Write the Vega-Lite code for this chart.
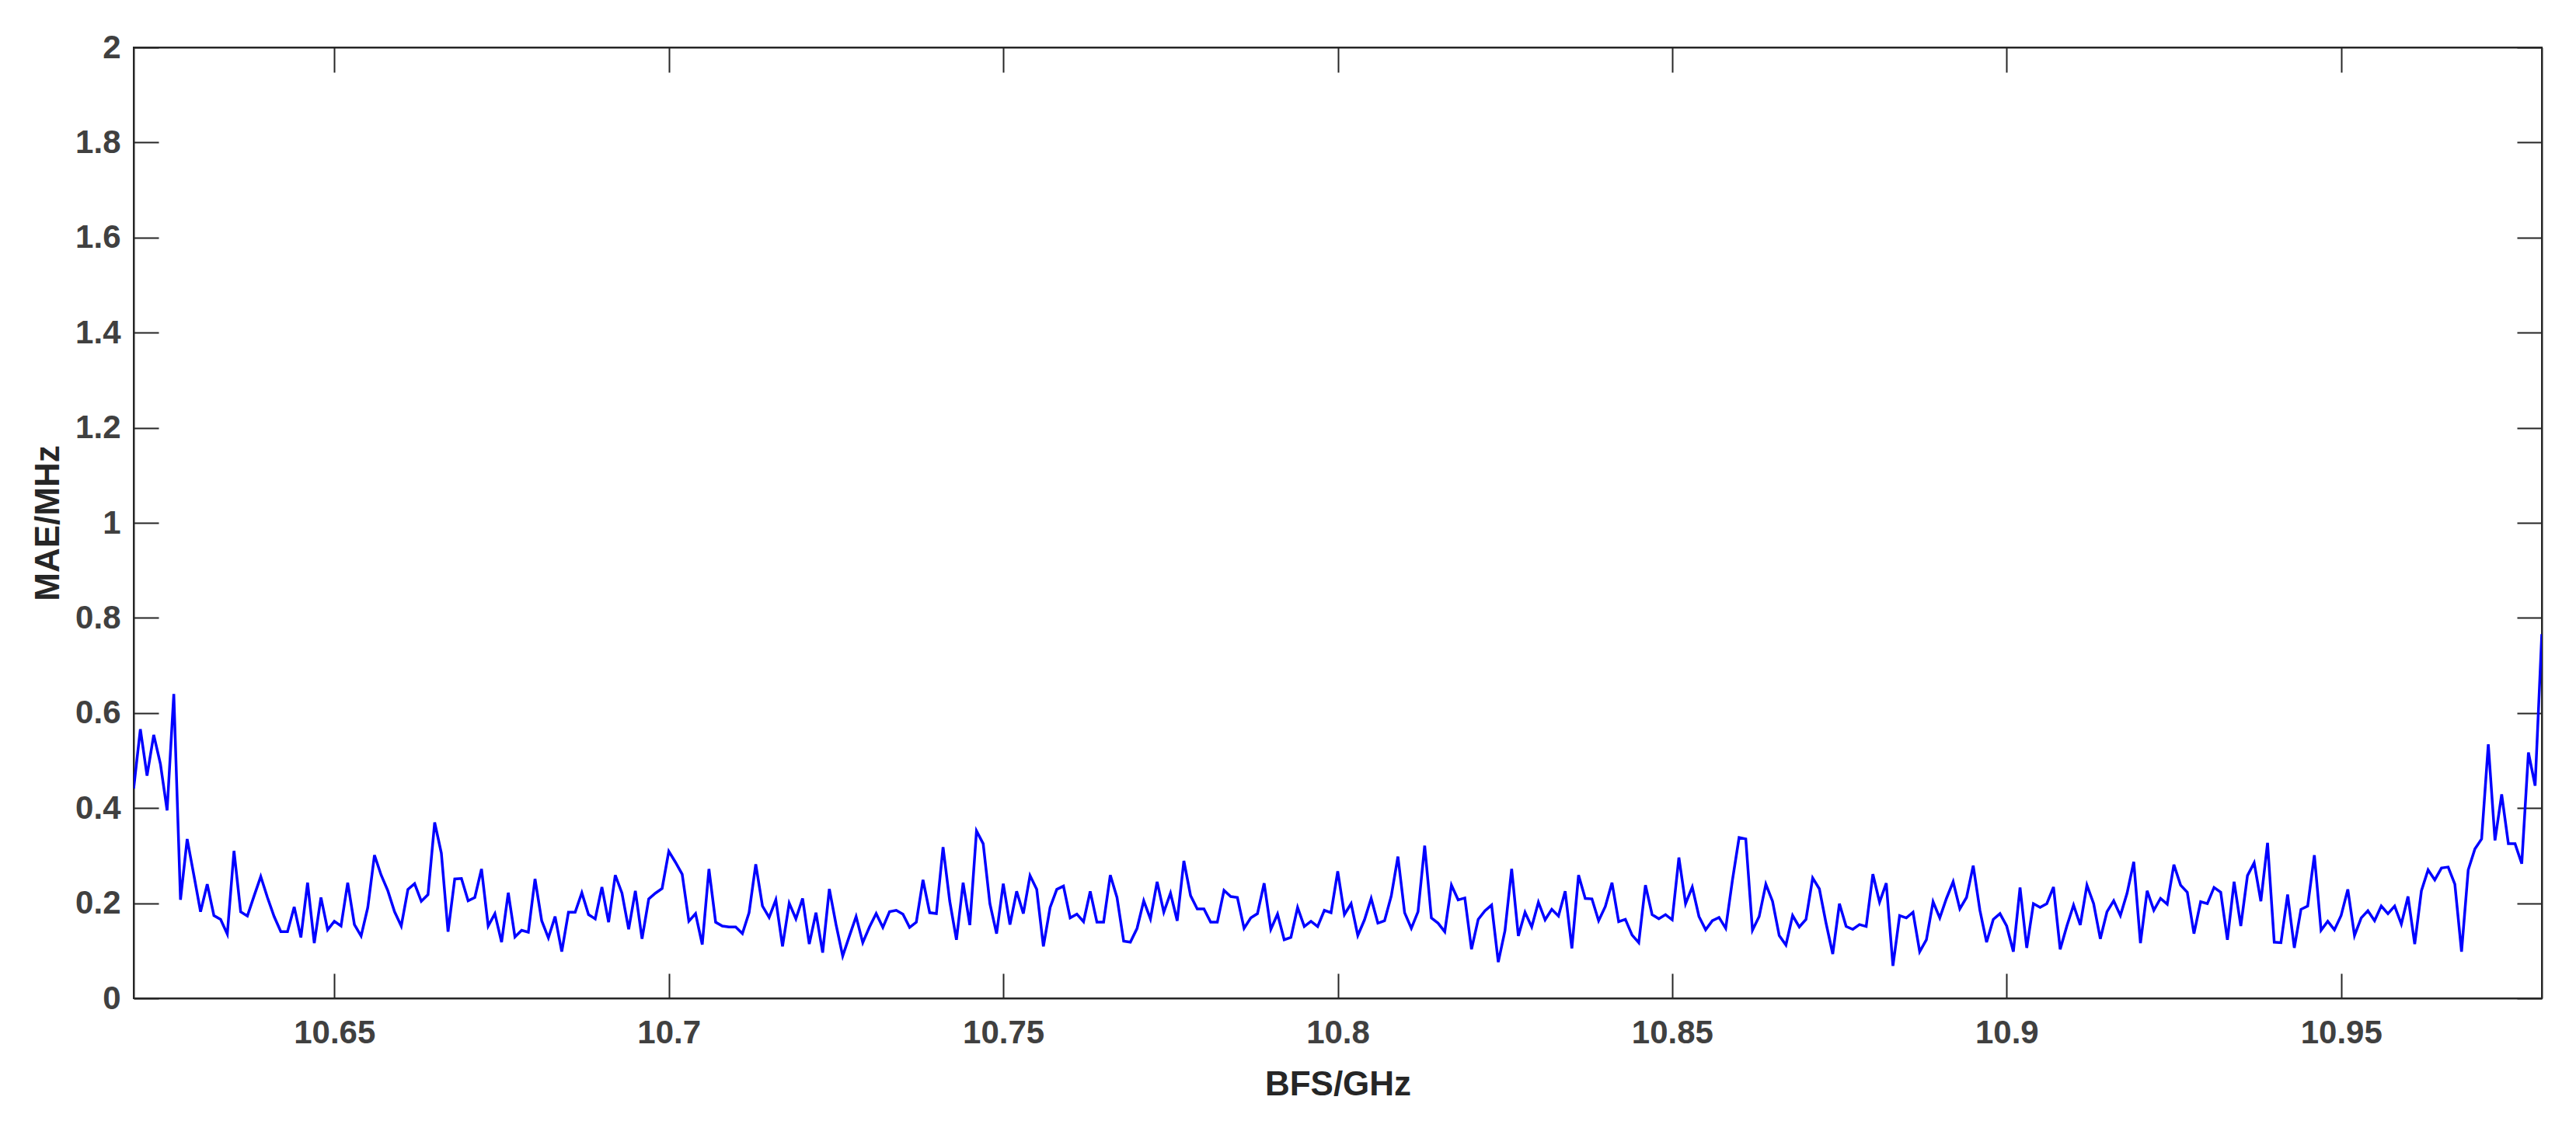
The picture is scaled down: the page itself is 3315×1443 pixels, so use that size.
{
  "$schema": "https://vega.github.io/schema/vega-lite/v6.json",
  "width": 3099,
  "height": 1224,
  "autosize": {"type": "none"},
  "padding": {"left": 172, "top": 61, "right": 44, "bottom": 158},
  "background": "white",
  "config": {
    "view": {"stroke": "#262626", "strokeWidth": 2},
    "axis": {
      "grid": false,
      "domainColor": "#262626",
      "domainWidth": 2,
      "tickColor": "#262626",
      "tickWidth": 2,
      "tickSize": -32,
      "labelFont": "Liberation Sans",
      "labelFontWeight": "bold",
      "labelFontSize": 42,
      "labelColor": "#404040",
      "labelFlush": false,
      "labelOverlap": false,
      "titleFont": "Liberation Sans",
      "titleFontWeight": "bold",
      "titleFontSize": 44,
      "titleColor": "#262626"
    }
  },
  "data": {"values": [
{"f":10.620,"m":0.441},{"f":10.621,"m":0.566},{"f":10.622,"m":0.468},{"f":10.623,"m":0.554},{"f":10.624,"m":0.493},{"f":10.625,"m":0.395},{"f":10.626,"m":0.640},{"f":10.627,"m":0.207},{"f":10.628,"m":0.335},{"f":10.629,"m":0.259},
{"f":10.630,"m":0.182},{"f":10.631,"m":0.240},{"f":10.632,"m":0.174},{"f":10.633,"m":0.166},{"f":10.634,"m":0.135},{"f":10.635,"m":0.310},{"f":10.636,"m":0.182},{"f":10.637,"m":0.173},{"f":10.638,"m":0.215},{"f":10.639,"m":0.256},
{"f":10.640,"m":0.212},{"f":10.641,"m":0.172},{"f":10.642,"m":0.140},{"f":10.643,"m":0.140},{"f":10.644,"m":0.192},{"f":10.645,"m":0.128},{"f":10.646,"m":0.243},{"f":10.647,"m":0.116},{"f":10.648,"m":0.212},{"f":10.649,"m":0.144},
{"f":10.650,"m":0.162},{"f":10.651,"m":0.152},{"f":10.652,"m":0.243},{"f":10.653,"m":0.155},{"f":10.654,"m":0.131},{"f":10.655,"m":0.191},{"f":10.656,"m":0.301},{"f":10.657,"m":0.259},{"f":10.658,"m":0.226},{"f":10.659,"m":0.182},
{"f":10.660,"m":0.152},{"f":10.661,"m":0.229},{"f":10.662,"m":0.241},{"f":10.663,"m":0.204},{"f":10.664,"m":0.218},{"f":10.665,"m":0.370},{"f":10.666,"m":0.305},{"f":10.667,"m":0.140},{"f":10.668,"m":0.251},{"f":10.669,"m":0.252},
{"f":10.670,"m":0.205},{"f":10.671,"m":0.212},{"f":10.672,"m":0.272},{"f":10.673,"m":0.152},{"f":10.674,"m":0.178},{"f":10.675,"m":0.118},{"f":10.676,"m":0.222},{"f":10.677,"m":0.129},{"f":10.678,"m":0.143},{"f":10.679,"m":0.139},
{"f":10.680,"m":0.251},{"f":10.681,"m":0.163},{"f":10.682,"m":0.127},{"f":10.683,"m":0.172},{"f":10.684,"m":0.098},{"f":10.685,"m":0.181},{"f":10.686,"m":0.181},{"f":10.687,"m":0.222},{"f":10.688,"m":0.176},{"f":10.689,"m":0.167},
{"f":10.690,"m":0.234},{"f":10.691,"m":0.160},{"f":10.692,"m":0.259},{"f":10.693,"m":0.221},{"f":10.694,"m":0.145},{"f":10.695,"m":0.226},{"f":10.696,"m":0.125},{"f":10.697,"m":0.209},{"f":10.698,"m":0.221},{"f":10.699,"m":0.231},
{"f":10.700,"m":0.309},{"f":10.701,"m":0.286},{"f":10.702,"m":0.261},{"f":10.703,"m":0.162},{"f":10.704,"m":0.178},{"f":10.705,"m":0.113},{"f":10.706,"m":0.272},{"f":10.707,"m":0.160},{"f":10.708,"m":0.152},{"f":10.709,"m":0.150},
{"f":10.710,"m":0.150},{"f":10.711,"m":0.136},{"f":10.712,"m":0.180},{"f":10.713,"m":0.282},{"f":10.714,"m":0.194},{"f":10.715,"m":0.170},{"f":10.716,"m":0.207},{"f":10.717,"m":0.109},{"f":10.718,"m":0.200},{"f":10.719,"m":0.167},
{"f":10.720,"m":0.210},{"f":10.721,"m":0.114},{"f":10.722,"m":0.180},{"f":10.723,"m":0.096},{"f":10.724,"m":0.230},{"f":10.725,"m":0.155},{"f":10.726,"m":0.089},{"f":10.727,"m":0.131},{"f":10.728,"m":0.172},{"f":10.729,"m":0.117},
{"f":10.730,"m":0.150},{"f":10.731,"m":0.178},{"f":10.732,"m":0.149},{"f":10.733,"m":0.182},{"f":10.734,"m":0.185},{"f":10.735,"m":0.177},{"f":10.736,"m":0.149},{"f":10.737,"m":0.160},{"f":10.738,"m":0.249},{"f":10.739,"m":0.180},
{"f":10.740,"m":0.178},{"f":10.741,"m":0.318},{"f":10.742,"m":0.204},{"f":10.743,"m":0.123},{"f":10.744,"m":0.243},{"f":10.745,"m":0.154},{"f":10.746,"m":0.352},{"f":10.747,"m":0.325},{"f":10.748,"m":0.199},{"f":10.749,"m":0.136},
{"f":10.750,"m":0.241},{"f":10.751,"m":0.155},{"f":10.752,"m":0.225},{"f":10.753,"m":0.178},{"f":10.754,"m":0.258},{"f":10.755,"m":0.229},{"f":10.756,"m":0.109},{"f":10.757,"m":0.191},{"f":10.758,"m":0.229},{"f":10.759,"m":0.236},
{"f":10.760,"m":0.169},{"f":10.761,"m":0.177},{"f":10.762,"m":0.161},{"f":10.763,"m":0.225},{"f":10.764,"m":0.160},{"f":10.765,"m":0.160},{"f":10.766,"m":0.259},{"f":10.767,"m":0.212},{"f":10.768,"m":0.120},{"f":10.769,"m":0.118},
{"f":10.770,"m":0.147},{"f":10.771,"m":0.205},{"f":10.772,"m":0.167},{"f":10.773,"m":0.245},{"f":10.774,"m":0.181},{"f":10.775,"m":0.221},{"f":10.776,"m":0.163},{"f":10.777,"m":0.289},{"f":10.778,"m":0.216},{"f":10.779,"m":0.188},
{"f":10.780,"m":0.188},{"f":10.781,"m":0.160},{"f":10.782,"m":0.160},{"f":10.783,"m":0.227},{"f":10.784,"m":0.214},{"f":10.785,"m":0.212},{"f":10.786,"m":0.147},{"f":10.787,"m":0.169},{"f":10.788,"m":0.178},{"f":10.789,"m":0.242},
{"f":10.790,"m":0.145},{"f":10.791,"m":0.177},{"f":10.792,"m":0.123},{"f":10.793,"m":0.128},{"f":10.794,"m":0.191},{"f":10.795,"m":0.151},{"f":10.796,"m":0.162},{"f":10.797,"m":0.151},{"f":10.798,"m":0.185},{"f":10.799,"m":0.180},
{"f":10.800,"m":0.267},{"f":10.801,"m":0.176},{"f":10.802,"m":0.199},{"f":10.803,"m":0.132},{"f":10.804,"m":0.165},{"f":10.805,"m":0.210},{"f":10.806,"m":0.158},{"f":10.807,"m":0.163},{"f":10.808,"m":0.215},{"f":10.809,"m":0.298},
{"f":10.810,"m":0.180},{"f":10.811,"m":0.147},{"f":10.812,"m":0.182},{"f":10.813,"m":0.321},{"f":10.814,"m":0.169},{"f":10.815,"m":0.158},{"f":10.816,"m":0.140},{"f":10.817,"m":0.238},{"f":10.818,"m":0.207},{"f":10.819,"m":0.211},
{"f":10.820,"m":0.103},{"f":10.821,"m":0.166},{"f":10.822,"m":0.184},{"f":10.823,"m":0.196},{"f":10.824,"m":0.076},{"f":10.825,"m":0.142},{"f":10.826,"m":0.272},{"f":10.827,"m":0.131},{"f":10.828,"m":0.181},{"f":10.829,"m":0.150},
{"f":10.830,"m":0.202},{"f":10.831,"m":0.165},{"f":10.832,"m":0.187},{"f":10.833,"m":0.173},{"f":10.834,"m":0.225},{"f":10.835,"m":0.105},{"f":10.836,"m":0.259},{"f":10.837,"m":0.210},{"f":10.838,"m":0.209},{"f":10.839,"m":0.163},
{"f":10.840,"m":0.193},{"f":10.841,"m":0.243},{"f":10.842,"m":0.161},{"f":10.843,"m":0.166},{"f":10.844,"m":0.133},{"f":10.845,"m":0.117},{"f":10.846,"m":0.238},{"f":10.847,"m":0.176},{"f":10.848,"m":0.167},{"f":10.849,"m":0.176},
{"f":10.850,"m":0.165},{"f":10.851,"m":0.296},{"f":10.852,"m":0.199},{"f":10.853,"m":0.234},{"f":10.854,"m":0.172},{"f":10.855,"m":0.144},{"f":10.856,"m":0.163},{"f":10.857,"m":0.170},{"f":10.858,"m":0.147},{"f":10.859,"m":0.248},
{"f":10.860,"m":0.338},{"f":10.861,"m":0.335},{"f":10.862,"m":0.143},{"f":10.863,"m":0.172},{"f":10.864,"m":0.240},{"f":10.865,"m":0.204},{"f":10.866,"m":0.132},{"f":10.867,"m":0.112},{"f":10.868,"m":0.174},{"f":10.869,"m":0.150},
{"f":10.870,"m":0.166},{"f":10.871,"m":0.253},{"f":10.872,"m":0.230},{"f":10.873,"m":0.158},{"f":10.874,"m":0.093},{"f":10.875,"m":0.199},{"f":10.876,"m":0.151},{"f":10.877,"m":0.145},{"f":10.878,"m":0.155},{"f":10.879,"m":0.151},
{"f":10.880,"m":0.261},{"f":10.881,"m":0.202},{"f":10.882,"m":0.242},{"f":10.883,"m":0.068},{"f":10.884,"m":0.174},{"f":10.885,"m":0.169},{"f":10.886,"m":0.181},{"f":10.887,"m":0.098},{"f":10.888,"m":0.123},{"f":10.889,"m":0.203},
{"f":10.890,"m":0.169},{"f":10.891,"m":0.210},{"f":10.892,"m":0.245},{"f":10.893,"m":0.188},{"f":10.894,"m":0.212},{"f":10.895,"m":0.279},{"f":10.896,"m":0.185},{"f":10.897,"m":0.118},{"f":10.898,"m":0.166},{"f":10.899,"m":0.178},
{"f":10.900,"m":0.152},{"f":10.901,"m":0.098},{"f":10.902,"m":0.233},{"f":10.903,"m":0.106},{"f":10.904,"m":0.199},{"f":10.905,"m":0.191},{"f":10.906,"m":0.199},{"f":10.907,"m":0.234},{"f":10.908,"m":0.103},{"f":10.909,"m":0.152},
{"f":10.910,"m":0.196},{"f":10.911,"m":0.154},{"f":10.912,"m":0.238},{"f":10.913,"m":0.199},{"f":10.914,"m":0.125},{"f":10.915,"m":0.182},{"f":10.916,"m":0.205},{"f":10.917,"m":0.174},{"f":10.918,"m":0.221},{"f":10.919,"m":0.287},
{"f":10.920,"m":0.116},{"f":10.921,"m":0.226},{"f":10.922,"m":0.185},{"f":10.923,"m":0.210},{"f":10.924,"m":0.198},{"f":10.925,"m":0.281},{"f":10.926,"m":0.238},{"f":10.927,"m":0.223},{"f":10.928,"m":0.136},{"f":10.929,"m":0.203},
{"f":10.930,"m":0.199},{"f":10.931,"m":0.233},{"f":10.932,"m":0.223},{"f":10.933,"m":0.123},{"f":10.934,"m":0.245},{"f":10.935,"m":0.152},{"f":10.936,"m":0.258},{"f":10.937,"m":0.285},{"f":10.938,"m":0.204},{"f":10.939,"m":0.327},
{"f":10.940,"m":0.118},{"f":10.941,"m":0.117},{"f":10.942,"m":0.218},{"f":10.943,"m":0.106},{"f":10.944,"m":0.187},{"f":10.945,"m":0.194},{"f":10.946,"m":0.301},{"f":10.947,"m":0.143},{"f":10.948,"m":0.162},{"f":10.949,"m":0.144},
{"f":10.950,"m":0.174},{"f":10.951,"m":0.229},{"f":10.952,"m":0.132},{"f":10.953,"m":0.169},{"f":10.954,"m":0.184},{"f":10.955,"m":0.163},{"f":10.956,"m":0.194},{"f":10.957,"m":0.178},{"f":10.958,"m":0.194},{"f":10.959,"m":0.156},
{"f":10.960,"m":0.214},{"f":10.961,"m":0.114},{"f":10.962,"m":0.226},{"f":10.963,"m":0.270},{"f":10.964,"m":0.249},{"f":10.965,"m":0.274},{"f":10.966,"m":0.276},{"f":10.967,"m":0.240},{"f":10.968,"m":0.098},{"f":10.969,"m":0.270},
{"f":10.970,"m":0.314},{"f":10.971,"m":0.335},{"f":10.972,"m":0.534},{"f":10.973,"m":0.332},{"f":10.974,"m":0.429},{"f":10.975,"m":0.325},{"f":10.976,"m":0.325},{"f":10.977,"m":0.283},{"f":10.978,"m":0.517},{"f":10.979,"m":0.447},
{"f":10.980,"m":0.766}
  ]},
  "layer": [
    {
      "mark": {"type": "line", "color": "#0000ff", "strokeWidth": 3.5, "clip": true},
      "encoding": {
        "x": {
          "field": "f", "type": "quantitative",
          "scale": {"domain": [10.62, 10.98], "nice": false, "zero": false},
          "axis": {
            "orient": "bottom",
            "values": [10.65, 10.7, 10.75, 10.8, 10.85, 10.9, 10.95],
            "format": "~g",
            "labelPadding": 56,
            "title": "BFS/GHz",
            "titlePadding": 24
          }
        },
        "y": {
          "field": "m", "type": "quantitative",
          "scale": {"domain": [0, 2], "nice": false},
          "axis": {
            "orient": "left",
            "values": [0, 0.2, 0.4, 0.6, 0.8, 1, 1.2, 1.4, 1.6, 1.8, 2],
            "format": "~g",
            "labelPadding": 49,
            "title": "MAE/MHz",
            "titlePadding": 12
          }
        }
      }
    },
    {
      "mark": {"type": "line", "opacity": 0},
      "encoding": {
        "x": {
          "field": "f", "type": "quantitative",
          "axis": {
            "orient": "top",
            "values": [10.65, 10.7, 10.75, 10.8, 10.85, 10.9, 10.95],
            "labels": false,
            "title": null
          }
        },
        "y": {
          "field": "m", "type": "quantitative",
          "axis": {
            "orient": "right",
            "values": [0, 0.2, 0.4, 0.6, 0.8, 1, 1.2, 1.4, 1.6, 1.8, 2],
            "labels": false,
            "title": null
          }
        }
      }
    }
  ],
  "resolve": {"axis": {"x": "independent", "y": "independent"}}
}
